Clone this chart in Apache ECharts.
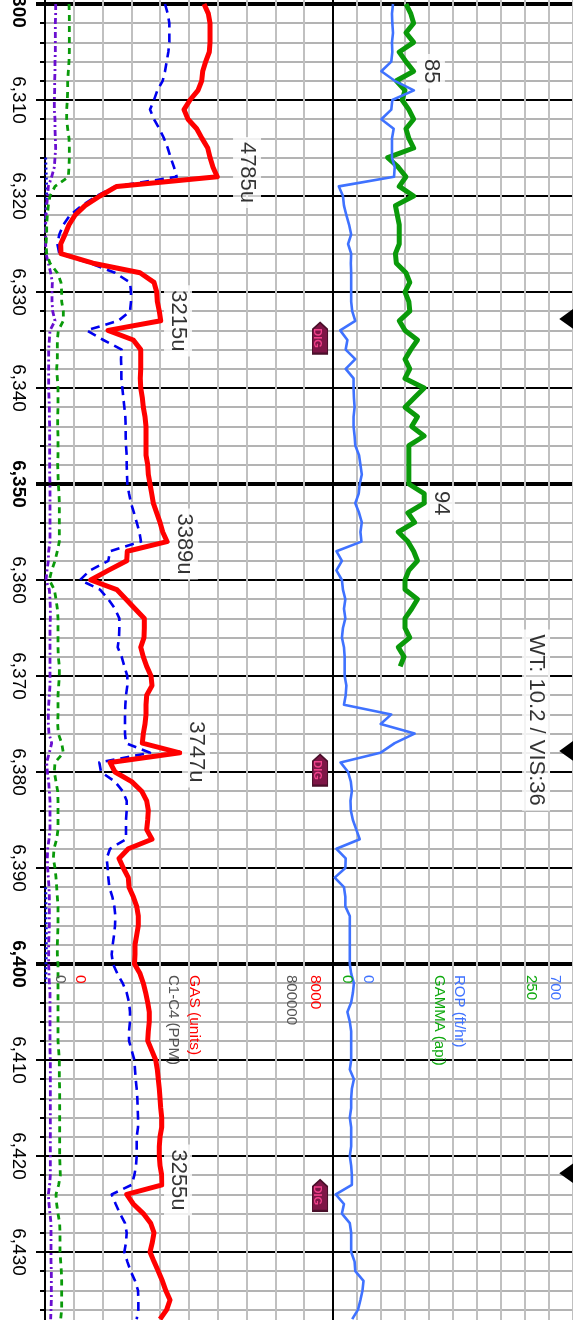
<!DOCTYPE html>
<html>
<head>
<meta charset="utf-8">
<style>html,body{margin:0;padding:0;background:#fff;overflow:hidden}#c{width:573px;height:1320px}</style>
<script src="https://cdn.jsdelivr.net/npm/echarts@6/dist/echarts.min.js"></script>
</head>
<body>
<div id="c"></div>
<script>
const startDepth = 6300;
const gasUnits = [
4417,4537,4584,4584,4584,4564,4464,4381,4353,4250,
4028,3861,3973,4214,4361,4520,4584,4667,4785,1992,
1528,1111,833,667,556,436,444,1333,2639,3028,
3103,3120,3175,3215,1750,2453,2659,2659,2659,2647,
2659,2703,2731,2778,2806,2806,2806,2806,2853,2870,
2917,2964,3009,3103,3195,3270,3389,2286,2270,1758,
1270,1992,2250,2500,2759,2759,2750,2659,2731,2825,
2945,2972,2825,2806,2806,2778,2731,2703,3747,1806,
1945,2408,2686,2825,2870,2853,2825,2972,2314,2056,
2175,2314,2334,2453,2547,2592,2592,2547,2500,2500,
2486,2639,2731,2797,2853,2897,2897,2870,2853,2964,
3075,3120,3147,3175,3195,3214,3242,3242,3195,3175,
3175,3195,3242,3255,2270,2453,2731,2936,3028,2981,
2917,3028,3147,3259,3353,3473,3381,3195];
const c1c4Ppm = [
333400,340800,345400,345400,345400,342600,338000,333400,326900,312100,
302800,291700,302800,317600,330600,340800,349100,358400,365800,194500,
143500,101900,69500,50900,39800,34300,39800,125000,194500,236100,
238900,238900,236100,203700,115800,162100,213000,211100,212100,212100,
214800,217600,220400,223200,224100,224100,225000,226900,226900,227800,
228700,233400,238900,247200,254700,262100,266700,180600,175900,125000,
97200,152800,175900,194500,206500,206500,205600,201900,213000,220400,
228700,228700,225000,223200,222200,222200,222200,225000,291700,150900,
155600,194500,215800,226900,226900,225000,225000,225000,180600,171300,
174100,175900,178700,187100,192600,195400,194500,191700,188000,185200,
188900,200900,215800,226900,233400,236100,236100,233400,233400,240800,
248200,250000,251900,254700,256500,257400,258400,258400,254700,254700,
254700,252800,248200,240800,185200,196300,208400,222200,226900,225000,
220400,228700,238000,250000,258400,259300,259300,254700];
const greenTrace = [
72,73,73,73,73,73,72,70,68,68,
67,65,65,68,72,73,73,72,70,30,
15,10,7,5,5,3,5,15,37,48,
50,50,55,55,40,37,37,37,35,37,
39,39,39,38,38,39,39,39,38,39,
40,42,43,43,43,43,43,37,30,20,
13,28,33,37,39,39,39,39,40,43,
43,41,39,39,39,38,40,50,55,30,
28,33,38,39,39,39,39,35,27,25,
30,33,35,37,39,39,39,38,37,37,
39,39,39,39,39,39,39,39,39,41,
43,43,43,44,44,44,44,44,44,44,
44,45,46,41,33,35,39,44,45,45,
45,47,49,50,50,50,50,47];
const purpleTrace = [
32,32,31,31,31,31,30,30,29,29,
28,28,30,30,31,32,30,28,20,10,
8,5,3,2,2,2,3,10,17,22,
21,21,23,30,15,13,11,11,11,11,
11,12,13,13,14,14,14,14,14,14,
15,15,15,15,15,15,15,11,10,6,
3,13,15,16,16,15,15,15,15,15,
15,15,13,11,10,10,12,20,13,5,
7,11,13,15,15,15,15,12,8,7,
8,10,12,13,13,13,13,12,11,11,
11,12,13,15,15,15,15,15,15,15,
16,16,16,16,16,16,16,16,16,16,
16,16,16,14,10,12,15,18,18,18,
18,18,19,19,19,19,18,17];
const lowTraceDepths = [6316,6317,6318,6319,6320,6321,6322,6323,null,6392,6393,6394,6395,6396,6397,6398,6399,6400,6401,6402];
const lowTrace = [2,3,4,5,5,3,2,1,null,2,3,3,3,4,4,4,4,3,3,3];
const ropFtHr = [
175,172,173,175,172,173,170,141,180,236,
173,170,141,177,172,172,172,180,178,17,
29,32,39,47,53,44,53,52,53,53,
53,53,56,65,21,42,37,65,37,60,
60,61,63,60,60,63,65,76,80,84,
78,75,65,76,84,80,83,10,26,10,
26,29,36,32,36,29,26,32,34,34,
34,39,37,32,170,139,238,180,138,22,
44,52,55,51,52,58,68,78,10,37,
36,5,32,36,36,49,49,49,49,49,
49,53,61,58,53,42,49,53,53,53,
53,49,61,55,53,53,49,53,53,53,
49,53,55,55,8,32,26,49,53,53,
53,63,65,89,86,80,73,56];
const gammaApi = [
76,81,84,76,84,69,76,84,66,75,
72,79,84,76,79,84,57,68,76,69,
84,65,67,69,69,69,65,66,76,80,
75,79,80,69,75,88,81,75,80,75,
95,85,75,88,82,95,79,79,79,79,
79,95,95,78,85,68,78,84,88,79,
75,75,88,82,75,75,80,68,74,70];
const gasNotes = [['4785u',5612,6317.55],['3215u',3695,6333],['3389u',3861,6356.25],['3747u',4195,6377.9],['3255u',3695,6422.5]];
const gammaNotes = [['85',102,6307],['94',112.5,6352],['WT: 10.2 / VIS:36',211.5,6374.6]];
const digDepths = [6334.8,6379.8,6424.1];
const digGas = 7640;
const flagDepths = [6332.8,6377.8,6421.8];
const flagGamma = 243;
const FONT = '"Liberation Sans", Arial, sans-serif';
const pairs = (vals) => vals.map((v, i) => [v, startDepth + i]);

const range = {type:'value', inverse:true, min:6250, max:6450, position:'left'};
const splitY = (c, w) => ({show:true, lineStyle:{color:c, width:w}});
const depthLabel = (v) => String(v).replace(/(\d)(\d{3})$/, '$1,$2');
const labelBase = {rotate:-90, margin:27, align:'center', verticalAlign:'middle', fontFamily:FONT, fontSize:19, color:'#000'};
function yAxes(grid, left) {
  return [
    Object.assign({}, range, {gridIndex:grid, interval:2, splitLine:splitY('#9a9a9a',1.6),
      axisLine:{show:true, onZero:false, lineStyle:{color:'#000', width:2}},
      axisTick:{show:left, length:5, lineStyle:{color:'#000', width:2}}, axisLabel:{show:false}}),
    Object.assign({}, range, {gridIndex:grid, interval:10, splitLine:splitY('#000',1.8),
      axisLine:{show:false}, axisTick:{show:left, length:9, lineStyle:{color:'#000', width:2}},
      axisLabel:Object.assign({show:left, formatter:(v) => v % 50 === 0 ? '' : depthLabel(v)}, labelBase)}),
    Object.assign({}, range, {gridIndex:grid, interval:50, splitLine:splitY('#000',4),
      axisLine:{show:false}, axisTick:{show:left, length:9, lineStyle:{color:'#000', width:4}},
      axisLabel:Object.assign({show:left, fontWeight:'bold', formatter:depthLabel}, labelBase)})
  ];
}
const splitX = {show:true, lineStyle:{color:'#c0c0c0', width:2}};
const hiddenParts = {axisLine:{show:false}, axisTick:{show:false}, axisLabel:{show:false}};
const line = (name, x, y, data, color, width, type, z) => ({
  name, type:'line', xAxisIndex:x, yAxisIndex:y, data, showSymbol:false, silent:true, z,
  lineStyle:{color, width, type, cap:'butt', join:'round'}, connectNulls:false
});
const notes = (x, y, list) => ({
  type:'scatter', xAxisIndex:x, yAxisIndex:y, symbolSize:1, silent:true, z:20,
  itemStyle:{color:'rgba(0,0,0,0)'},
  data:list.map(n => ({name:n[0], value:[n[1], n[2]]})),
  label:{show:true, position:'inside', formatter:'{b}', rotate:-90, fontFamily:FONT, fontSize:22, color:'#000',
    backgroundColor:'#fff', padding:[3,5]}
});
const legendText = (text, x, color, size) => ({
  type:'text', x, y:975, rotation:-Math.PI/2, z:30,
  style:{text, fill:color, font:size+'px '+FONT, align:'left', verticalAlign:'middle'}
});
const RED='#ff0000', GRY='#555555', GRN='#0da80d', BLU='#3f72ff';
const gridBase = {top:-476, height:1920, containLabel:false, outerBoundsMode:'none'};
const opt = {
  animation:false, backgroundColor:'#fff',
  grid:[Object.assign({left:45, width:288}, gridBase), Object.assign({left:333, width:240}, gridBase)],
  xAxis:[
    Object.assign({type:'value', gridIndex:0, min:0, max:8000, interval:800, splitLine:splitX}, hiddenParts),
    {type:'value', gridIndex:0, min:0, max:800000, show:false, splitLine:{show:false}},
    {type:'value', gridIndex:0, min:0, max:864, show:false, splitLine:{show:false}},
    Object.assign({type:'value', gridIndex:1, min:0, max:250, interval:25, splitLine:splitX}, hiddenParts),
    {type:'value', gridIndex:1, min:0, max:700, show:false, splitLine:{show:false}}
  ],
  yAxis:[...yAxes(0,true), ...yAxes(1,false)],
  series:[
    line('low', 2, 0, lowTrace.map((v,i)=>[v, lowTraceDepths[i]]), '#0a0ae0', 2.8, [2,3], 5),
    line('purple', 2, 0, pairs(purpleTrace), '#6a0fd0', 2.8, [6,3,2,3], 6),
    line('green', 2, 0, pairs(greenTrace), '#0a9a0a', 2.8, [6,5], 7),
    line('C1-C4 (PPM)', 1, 0, pairs(c1c4Ppm), '#0000ee', 2.6, [9,6], 8),
    line('GAS (units)', 0, 0, pairs(gasUnits), RED, 5, 'solid', 9),
    line('GAMMA (api)', 3, 3, pairs(gammaApi), '#0a9a0a', 5, 'solid', 7),
    line('ROP (ft/hr)', 4, 3, pairs(ropFtHr), BLU, 2.6, 'solid', 8),
    notes(0, 0, gasNotes),
    notes(3, 3, gammaNotes),
    { type:'scatter', xAxisIndex:0, yAxisIndex:0, silent:true, z:15,
      symbol:'path://M8 0 L16 7 L16 32 L0 32 L0 7 Z', symbolSize:[15,31],
      itemStyle:{color:'#7e1546', borderColor:'#4a0f2a', borderWidth:1.5, opacity:1},
      data:digDepths.map(d=>[digGas,d]),
      label:{show:true, position:'inside', formatter:'DIG', rotate:-90, fontFamily:FONT, fontSize:11, fontWeight:'bold', color:'#f0408a', offset:[0,3]}
    },
    { type:'scatter', xAxisIndex:3, yAxisIndex:3, silent:true, z:15,
      symbol:'triangle', symbolSize:[20,14], symbolRotate:90,
      itemStyle:{color:'#000', opacity:1},
      data:flagDepths.map(d=>[flagGamma,d])
    }
  ],
  graphic:[
    legendText('0',80,RED,15.5), legendText('GAS (units)',194,RED,15.5), legendText('8000',315,RED,15.5),
    legendText('0',60,GRY,15), legendText('C1-C4 (PPM)',173,GRY,15), legendText('800000',291,GRY,15),
    legendText('0',347,GRN,15), legendText('GAMMA (api)',439,GRN,15), legendText('250',531,GRN,15),
    legendText('0',368,BLU,15), legendText('ROP (ft/hr)',459,BLU,15), legendText('700',555,BLU,15)
  ]
};
const chart = echarts.init(document.getElementById('c'), null, {renderer:'canvas'});
chart.setOption(opt);
</script>
</body>
</html>
